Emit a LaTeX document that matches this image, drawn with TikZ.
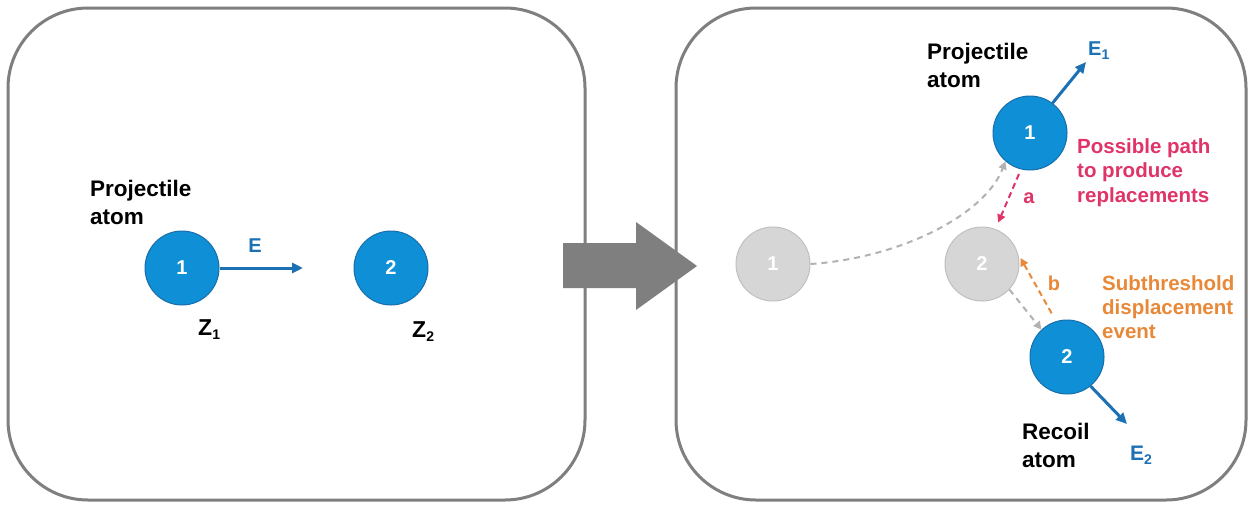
\documentclass[tikz,border=0pt]{standalone}
\usepackage{fontspec}
\setmainfont{Liberation Sans}
\usetikzlibrary{arrows.meta}
\definecolor{boxgray}{RGB}{127,127,127}
\definecolor{atomblue}{RGB}{14,143,214}
\definecolor{atomedge}{RGB}{25,110,170}
\definecolor{arrowblue}{RGB}{28,112,180}
\definecolor{ghostfill}{RGB}{214,214,214}
\definecolor{ghostedge}{RGB}{192,192,192}
\definecolor{dashgray}{RGB}{178,178,178}
\definecolor{pathred}{RGB}{224,52,104}
\definecolor{suborange}{RGB}{232,137,58}
\newcommand{\mysub}[1]{\raisebox{-4.5pt}{\fontsize{14}{14}\selectfont #1}}
\begin{document}
\begin{tikzpicture}[x=1pt,y=-1pt,
  frame/.style={draw=boxgray,line width=3pt,rounded corners=80pt},
  atom/.style={circle,minimum size=74pt,inner sep=0pt,fill=atomblue,draw=atomedge,line width=1pt,text=white,font=\fontsize{20}{22}\selectfont\bfseries},
  ghost/.style={atom,fill=ghostfill,draw=ghostedge},
  txt/.style={inner sep=0pt,align=left,anchor=north west},
  energy/.style={draw=arrowblue,line width=3pt,-{Triangle[length=11pt,width=10pt]}},
  ghostpath/.style={draw=dashgray,line width=2pt,dash pattern=on 6pt off 5pt,-{Triangle[length=8pt,width=8pt]}},
  redpath/.style={draw=pathred,line width=2pt,dash pattern=on 6pt off 4pt,-{Triangle[length=8pt,width=8pt]}},
  orangepath/.style={draw=suborange,line width=2pt,dash pattern=on 6pt off 4pt,-{Triangle[length=8pt,width=8pt]}},
  blacktxt/.style={txt,font=\fontsize{22.5}{27.5}\selectfont\bfseries},
]
\useasboundingbox (0,0) rectangle (1253,509);
\fill[white] (0,0) rectangle (1253,509);
% frames
\draw[frame] (8,8) rectangle (585,500);
\draw[frame] (676,8) rectangle (1246,500);
% big arrow
\fill[boxgray] (563,243) -- (636,243) -- (636,222) -- (697,266) -- (636,310) -- (636,288) -- (563,288) -- cycle;

% left panel
\node[atom] (L1) at (182,268) {1};
\node[atom] (L2) at (391,268) {2};
\coordinate (Etip) at (303,268);
\draw[energy] (L1.east) -- (Etip);
\node[inner sep=0pt,anchor=base,text=arrowblue,font=\fontsize{20}{24}\selectfont\bfseries] (Elab) at (255,252) {E};
\node[blacktxt] (projL) at (90,180) {Projectile\\atom};
\node[inner sep=0pt,anchor=base west,font=\fontsize{23}{27}\selectfont\bfseries] (Z1) at (198,335) {Z\mysub{1}};
\node[inner sep=0pt,anchor=base west,font=\fontsize{23}{27}\selectfont\bfseries] (Z2) at (412,337) {Z\mysub{2}};

% right panel
\node[ghost] (G1) at (773,264) {1};
\node[ghost] (G2) at (982,264) {2};
\node[atom] (B1) at (1030,133) {1};
\node[atom] (B2) at (1067,357) {2};

\coordinate (E1tip) at (1086,62);
\coordinate (E2tip) at (1127,424);
\draw[energy] (B1.53) -- (E1tip);
\draw[energy] (B2.-51) -- (E2tip);

\draw[ghostpath] (G1.east) .. controls (900,258) and (985,215) .. (B1.229);
\draw[ghostpath] (G2.-43) -- (B2.133);
\draw[redpath,shorten <=5pt,shorten >=7pt] (B1.256) -- (G2.69);
\draw[orangepath,shorten <=9pt,shorten >=5pt] (B2.107) -- (G2.16);

\node[inner sep=0pt,text=pathred,font=\fontsize{20}{24}\selectfont\bfseries] (alab) at (1029,198) {a};
\node[inner sep=0pt,text=suborange,font=\fontsize{20}{24}\selectfont\bfseries] (blab) at (1054,283) {b};

\node[blacktxt] (projR) at (927,43) {Projectile\\atom};
\node[blacktxt] (recoil) at (1022,423) {Recoil\\atom};
\node[txt,text=pathred,font=\fontsize{20.5}{24.5}\selectfont\bfseries] (redtxt) at (1077,138) {Possible path\\to produce\\replacements};
\node[txt,text=suborange,font=\fontsize{20.5}{24.2}\selectfont\bfseries] (orangetxt) at (1102,275) {Subthreshold\\displacement\\event};

\node[inner sep=0pt,anchor=base west,text=arrowblue,font=\fontsize{20}{24}\selectfont\bfseries] (E1lab) at (1088,55) {E\mysub{1}};
\node[inner sep=0pt,anchor=base west,text=arrowblue,font=\fontsize{21}{25}\selectfont\bfseries] (E2lab) at (1130,460) {E\mysub{2}};
\end{tikzpicture}
\end{document}
